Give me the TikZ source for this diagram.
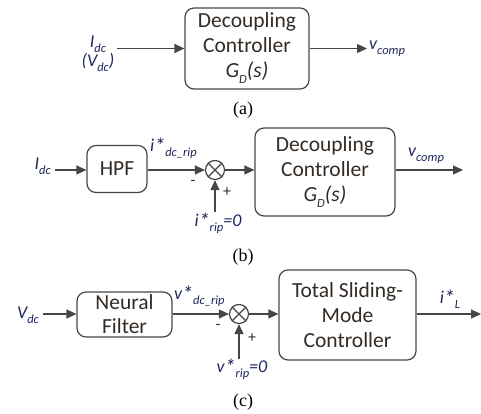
\documentclass[tikz,border=0pt]{standalone}
\usepackage{fontspec}
\setmainfont{Carlito}
\newfontfamily\capfont{Liberation Serif}
\usetikzlibrary{arrows.meta}
\definecolor{lblc}{RGB}{30,40,90}
\definecolor{boxtxt}{RGB}{50,42,36}
\definecolor{linec}{RGB}{70,70,70}
\newcommand\sbx[1]{\raisebox{-0.28em}{\fontsize{12.5}{12.5}\selectfont #1}}
\newcommand\myast{\raisebox{-0.1em}{\fontsize{22}{22}\selectfont *}}
\tikzset{
  blk/.style={draw=linec, line width=1.2pt, rounded corners=9pt, align=center,
     text=boxtxt, font=\fontsize{21.5}{25}\selectfont, inner sep=0pt},
  arr/.style={draw=linec, line width=1.2pt, -{Triangle[length=10pt,width=9pt]}},
  ln/.style={draw=linec, line width=1.2pt},
  sumnode/.style={circle, draw=linec, line width=1.2pt, minimum size=19pt, inner sep=0pt},
  lbl/.style={text=lblc, font=\fontsize{18}{18}\selectfont\itshape, inner sep=0pt},
  sgn/.style={text=boxtxt, font=\fontsize{16}{16}\selectfont, inner sep=0pt},
  captxt/.style={font=\capfont\fontsize{18}{18}\selectfont, inner sep=0pt}
}
\begin{document}
\begin{tikzpicture}[x=1pt,y=-1pt]
\useasboundingbox (0,0) rectangle (481,414);
% (a)
\node[blk, minimum width=124pt, minimum height=81pt] (A) at (247,48.5) {Decoupling\\Controller\\{\itshape G\sbx{D}(s)}};
\node[lbl, align=center] (inA) at (98,54) {I\sbx{dc}\\(V\sbx{dc})};
\coordinate (inAc) at (117,48.5);
\coordinate (outAc) at (367,48.5);
\draw[arr] (inAc) -- (A.west);
\draw[arr] (A.east) -- (outAc);
\node[lbl, anchor=west] (vA) at (369,49) {v\sbx{comp}};
\node[captxt] (capA) at (243,110) {(a)};
% (b)
\node[blk, minimum width=60pt, minimum height=47pt] (H) at (117,169) {HPF};
\node[sumnode] (S1) at (215,170) {};
\draw[ln] (S1.45) -- (S1.225) (S1.135) -- (S1.315);
\node[blk, minimum width=140pt, minimum height=88pt] (D) at (325,172) {Decoupling\\Controller\\{\itshape G\sbx{D}(s)}};
\node[lbl, anchor=east] (Idc) at (51,166) {I\sbx{dc}};
\coordinate (inB) at (55,170);
\coordinate (upB) at (215,212);
\coordinate (outB) at (463,170);
\draw[arr] (inB) -- (H.west |- inB);
\draw[arr] (H.east |- S1) -- (S1.west);
\draw[arr] (upB) -- (S1.south);
\draw[arr] (S1.east) -- (D.west |- S1);
\draw[arr] (D.east |- S1) -- (outB);
\node[lbl, anchor=west] (iref) at (150,148) {i\myast\sbx{dc\_rip}};
\node[sgn] (m1) at (193,183) {-};
\node[sgn] (p1) at (227,192) {+};
\node[lbl] (i0) at (218,223) {i\myast\sbx{rip}=0};
\node[lbl] (vB) at (426,156) {v\sbx{comp}};
\node[captxt] (capB) at (243,257) {(b)};
% (c)
\node[blk, minimum width=95pt, minimum height=45pt, font=\fontsize{21.5}{24}\selectfont] (N) at (124.5,314.5) {Neural\\Filter};
\node[sumnode] (S2) at (239,314) {};
\draw[ln] (S2.45) -- (S2.225) (S2.135) -- (S2.315);
\node[blk, minimum width=137pt, minimum height=90pt] (T) at (347.5,315) {Total Sliding-\\Mode\\Controller};
\node[lbl] (Vdc) at (28,315) {V\sbx{dc}};
\coordinate (inC) at (43,314);
\coordinate (upC) at (239,359);
\coordinate (outC) at (481,314);
\draw[arr] (inC) -- (N.west |- inC);
\draw[arr] (N.east |- S2) -- (S2.west);
\draw[arr] (upC) -- (S2.south);
\draw[arr] (S2.east) -- (T.west |- S2);
\draw[arr] (T.east |- S2) -- (outC);
\node[lbl, anchor=west] (vref) at (174,296) {v\myast\sbx{dc\_rip}};
\node[sgn] (m2) at (218,327) {-};
\node[sgn] (p2) at (252,338) {+};
\node[lbl] (v0) at (242,369) {v\myast\sbx{rip}=0};
\node[lbl] (iL) at (450,299) {i\myast\sbx{L}};
\node[captxt] (capC) at (243,402) {(c)};
\end{tikzpicture}
\end{document}
